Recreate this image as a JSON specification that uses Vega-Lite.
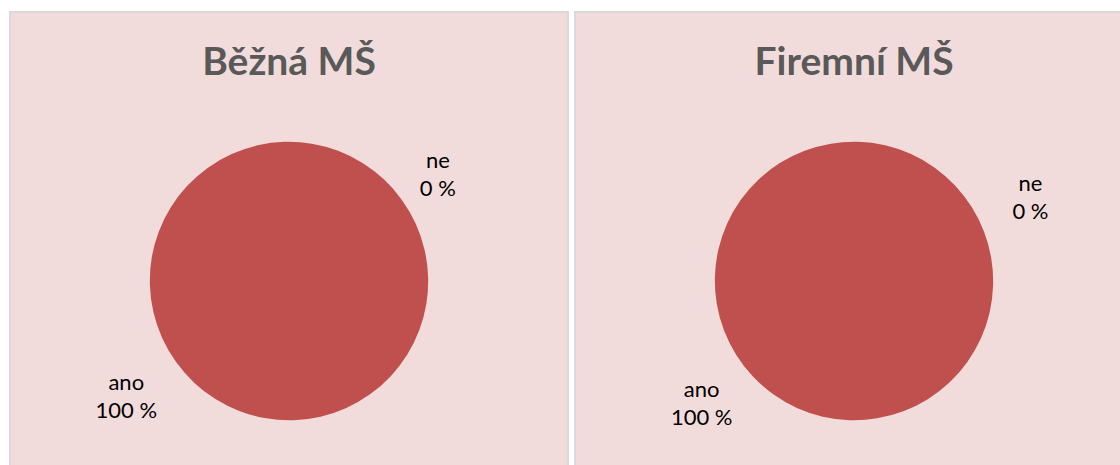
{
  "$schema": "https://vega.github.io/schema/vega-lite/v6.json",
  "background": "#FFFFFF",
  "padding": {"left": 9, "top": 11, "right": 0, "bottom": 0},
  "config": {
    "view": {"fill": "#F2DCDB", "stroke": "#D9D9D9", "strokeWidth": 2},
    "concat": {"spacing": 5},
    "title": {"font": "Lato", "fontSize": 39, "fontWeight": "bold", "color": "#595959", "anchor": "middle", "baseline": "alphabetic", "offset": -71},
    "text": {"font": "Lato", "fontSize": 22, "color": "#000000"}
  },
  "data": {
    "values": [
      {"skolka": "Běžná MŠ", "odpoved": "ano", "podil": 100},
      {"skolka": "Běžná MŠ", "odpoved": "ne", "podil": 0},
      {"skolka": "Firemní MŠ", "odpoved": "ano", "podil": 100},
      {"skolka": "Firemní MŠ", "odpoved": "ne", "podil": 0}
    ]
  },
  "transform": [{"calculate": "datum.odpoved + '\\n' + datum.podil + ' %'", "as": "popisek"}],
  "hconcat": [
    {
      "title": "Běžná MŠ",
      "width": 558,
      "height": 538,
      "view": {"fill": "#F2DCDB", "stroke": "#D9D9D9", "strokeWidth": 2},
      "transform": [{"filter": "datum.skolka == 'Běžná MŠ'"}],
      "encoding": {
        "theta": {"field": "podil", "type": "quantitative", "stack": true, "scale": {"range": [0.9503, 7.2335]}},
        "color": {"field": "odpoved", "type": "nominal", "scale": {"domain": ["ano", "ne"], "range": ["#C0504D", "#4F81BD"]}, "legend": null}
      },
      "layer": [
        {"mark": {"type": "arc", "outerRadius": 139}},
        {
          "transform": [{"filter": "datum.odpoved == 'ne'"}],
          "mark": {"type": "text", "radius": 183, "dy": -14, "lineBreak": "\n", "lineHeight": 28},
          "encoding": {"text": {"field": "popisek", "type": "nominal"}, "color": {"value": "#000000"}}
        },
        {
          "transform": [{"filter": "datum.odpoved == 'ano'"}],
          "mark": {"type": "text", "radius": 200, "dy": -14, "lineBreak": "\n", "lineHeight": 28},
          "encoding": {"text": {"field": "popisek", "type": "nominal"}, "color": {"value": "#000000"}}
        }
      ]
    },
    {
      "title": "Firemní MŠ",
      "width": 558,
      "height": 538,
      "view": {"fill": "#F2DCDB", "stroke": "#D9D9D9", "strokeWidth": 2},
      "transform": [{"filter": "datum.skolka == 'Firemní MŠ'"}],
      "encoding": {
        "theta": {"field": "podil", "type": "quantitative", "stack": true, "scale": {"range": [1.0123, 7.2955]}},
        "color": {"field": "odpoved", "type": "nominal", "scale": {"domain": ["ano", "ne"], "range": ["#C0504D", "#4F81BD"]}, "legend": null}
      },
      "layer": [
        {"mark": {"type": "arc", "outerRadius": 139}},
        {
          "transform": [{"filter": "datum.odpoved == 'ne'"}],
          "mark": {"type": "text", "radius": 195, "thetaOffset": 0.119, "dy": -14, "lineBreak": "\n", "lineHeight": 28},
          "encoding": {"text": {"field": "popisek", "type": "nominal"}, "color": {"value": "#000000"}}
        },
        {
          "transform": [{"filter": "datum.odpoved == 'ano'"}],
          "mark": {"type": "text", "radius": 196, "thetaOffset": -0.122, "dy": -14, "lineBreak": "\n", "lineHeight": 28},
          "encoding": {"text": {"field": "popisek", "type": "nominal"}, "color": {"value": "#000000"}}
        }
      ]
    }
  ]
}
